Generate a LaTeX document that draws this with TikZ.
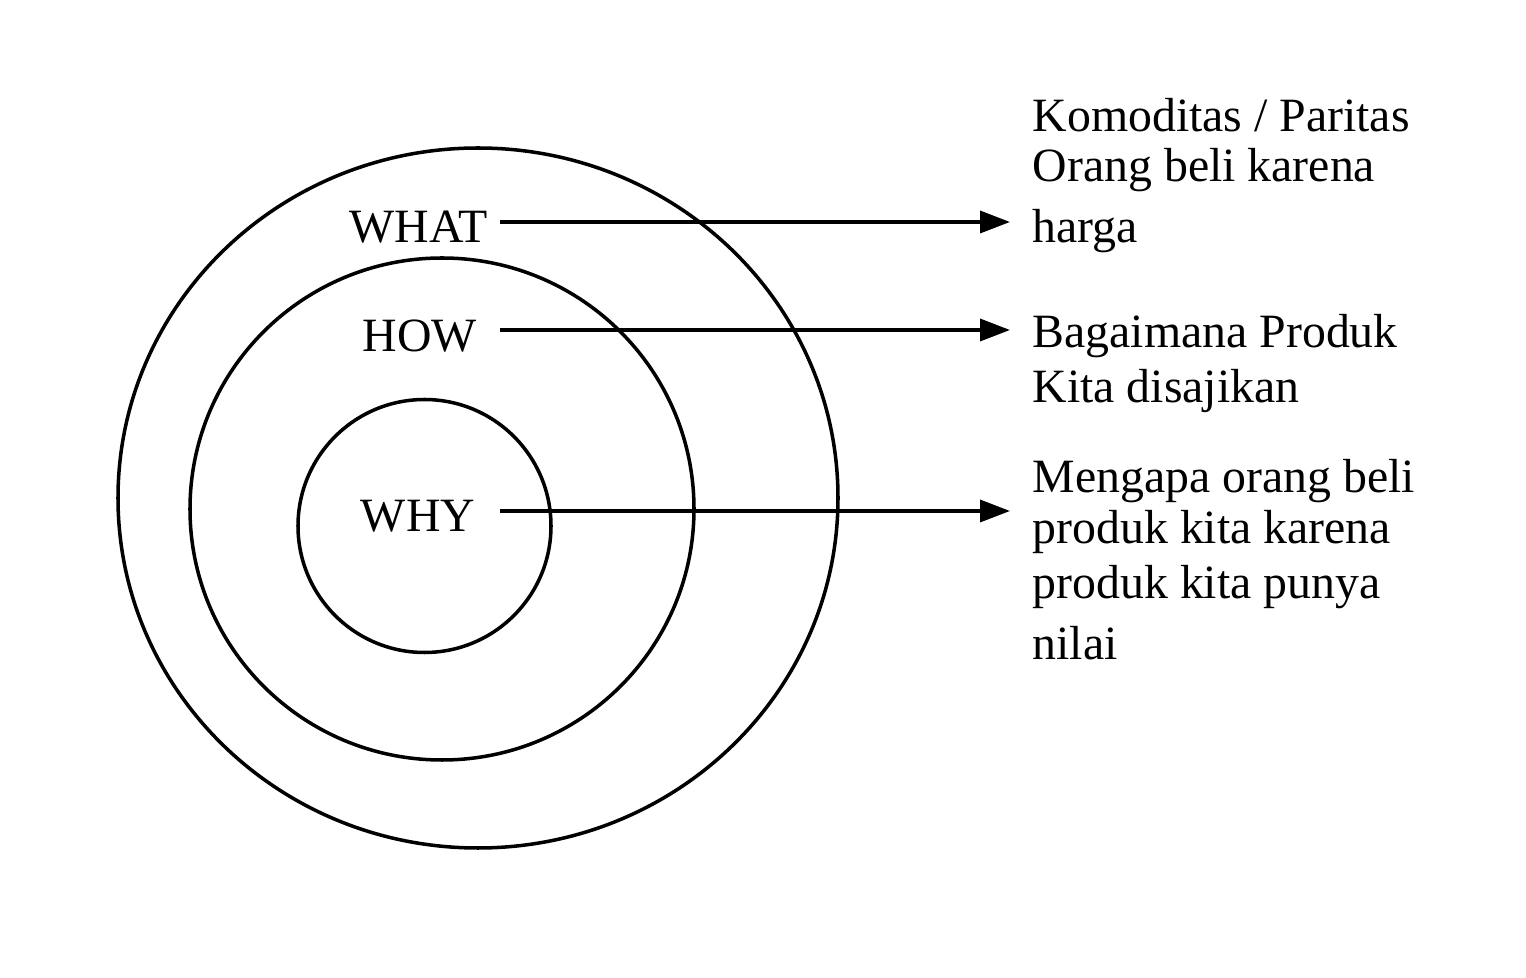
\documentclass[tikz,border=0pt]{standalone}
\usepackage{fontspec}
\setmainfont{Liberation Serif}
\usetikzlibrary{arrows.meta}
\begin{document}
\begin{tikzpicture}[
    ring/.style={line width=1pt},
    pointer/.style={line width=1pt, -{Triangle[length=0.3cm, width=0.22cm]}},
    layer/.style={inner sep=0pt, anchor=base, font=\fontsize{13.6}{14.2}\selectfont},
    note/.style={inner sep=0pt, anchor=base west, align=left,
                 font=\fontsize{13.6}{14.2}\selectfont}
  ]
    \useasboundingbox (0, 0) rectangle (15.26, 9.78);

    % Rings
    \draw [ring] (4.78, 4.80) ellipse [x radius=3.60cm, y radius=3.50cm];
    \draw [ring] (4.42, 4.69) ellipse [x radius=2.52cm, y radius=2.51cm];
    \draw [ring] (4.245, 4.52) circle [radius=1.265cm];

    % Layer labels
    \node [layer] (what) at (4.185, 7.35) {WHAT};
    \node [layer] (how)  at (4.20, 6.26) {HOW};
    \node [layer] (why)  at (4.18, 4.46) {WHY};

    % Notes (base is the last line)
    \node [note] (whatnote) at (10.32, 7.35)
          {Komoditas / Paritas\\ Orang beli karena\\[3.2pt] harga};
    \node [note] (hownote) at (10.32, 5.75)
          {Bagaimana Produk\\[1.7pt] Kita disajikan};
    \node [note] (whynote) at (10.32, 3.18)
          {Mengapa orang beli\\[0.3pt] produk kita karena\\[1.4pt] produk kita punya\\[3.4pt] nilai};

    % Arrows
    \coordinate (whatfrom) at (5.00, 7.56);
    \coordinate (whatto)   at (10.10, 7.56);
    \coordinate (howfrom)  at (5.00, 6.48);
    \coordinate (howto)    at (10.10, 6.48);
    \coordinate (whyfrom)  at (5.00, 4.67);
    \coordinate (whyto)    at (10.10, 4.67);
    \draw [pointer] (whatfrom) -- (whatto);
    \draw [pointer] (howfrom) -- (howto);
    \draw [pointer] (whyfrom) -- (whyto);
  \end{tikzpicture}
\end{document}
